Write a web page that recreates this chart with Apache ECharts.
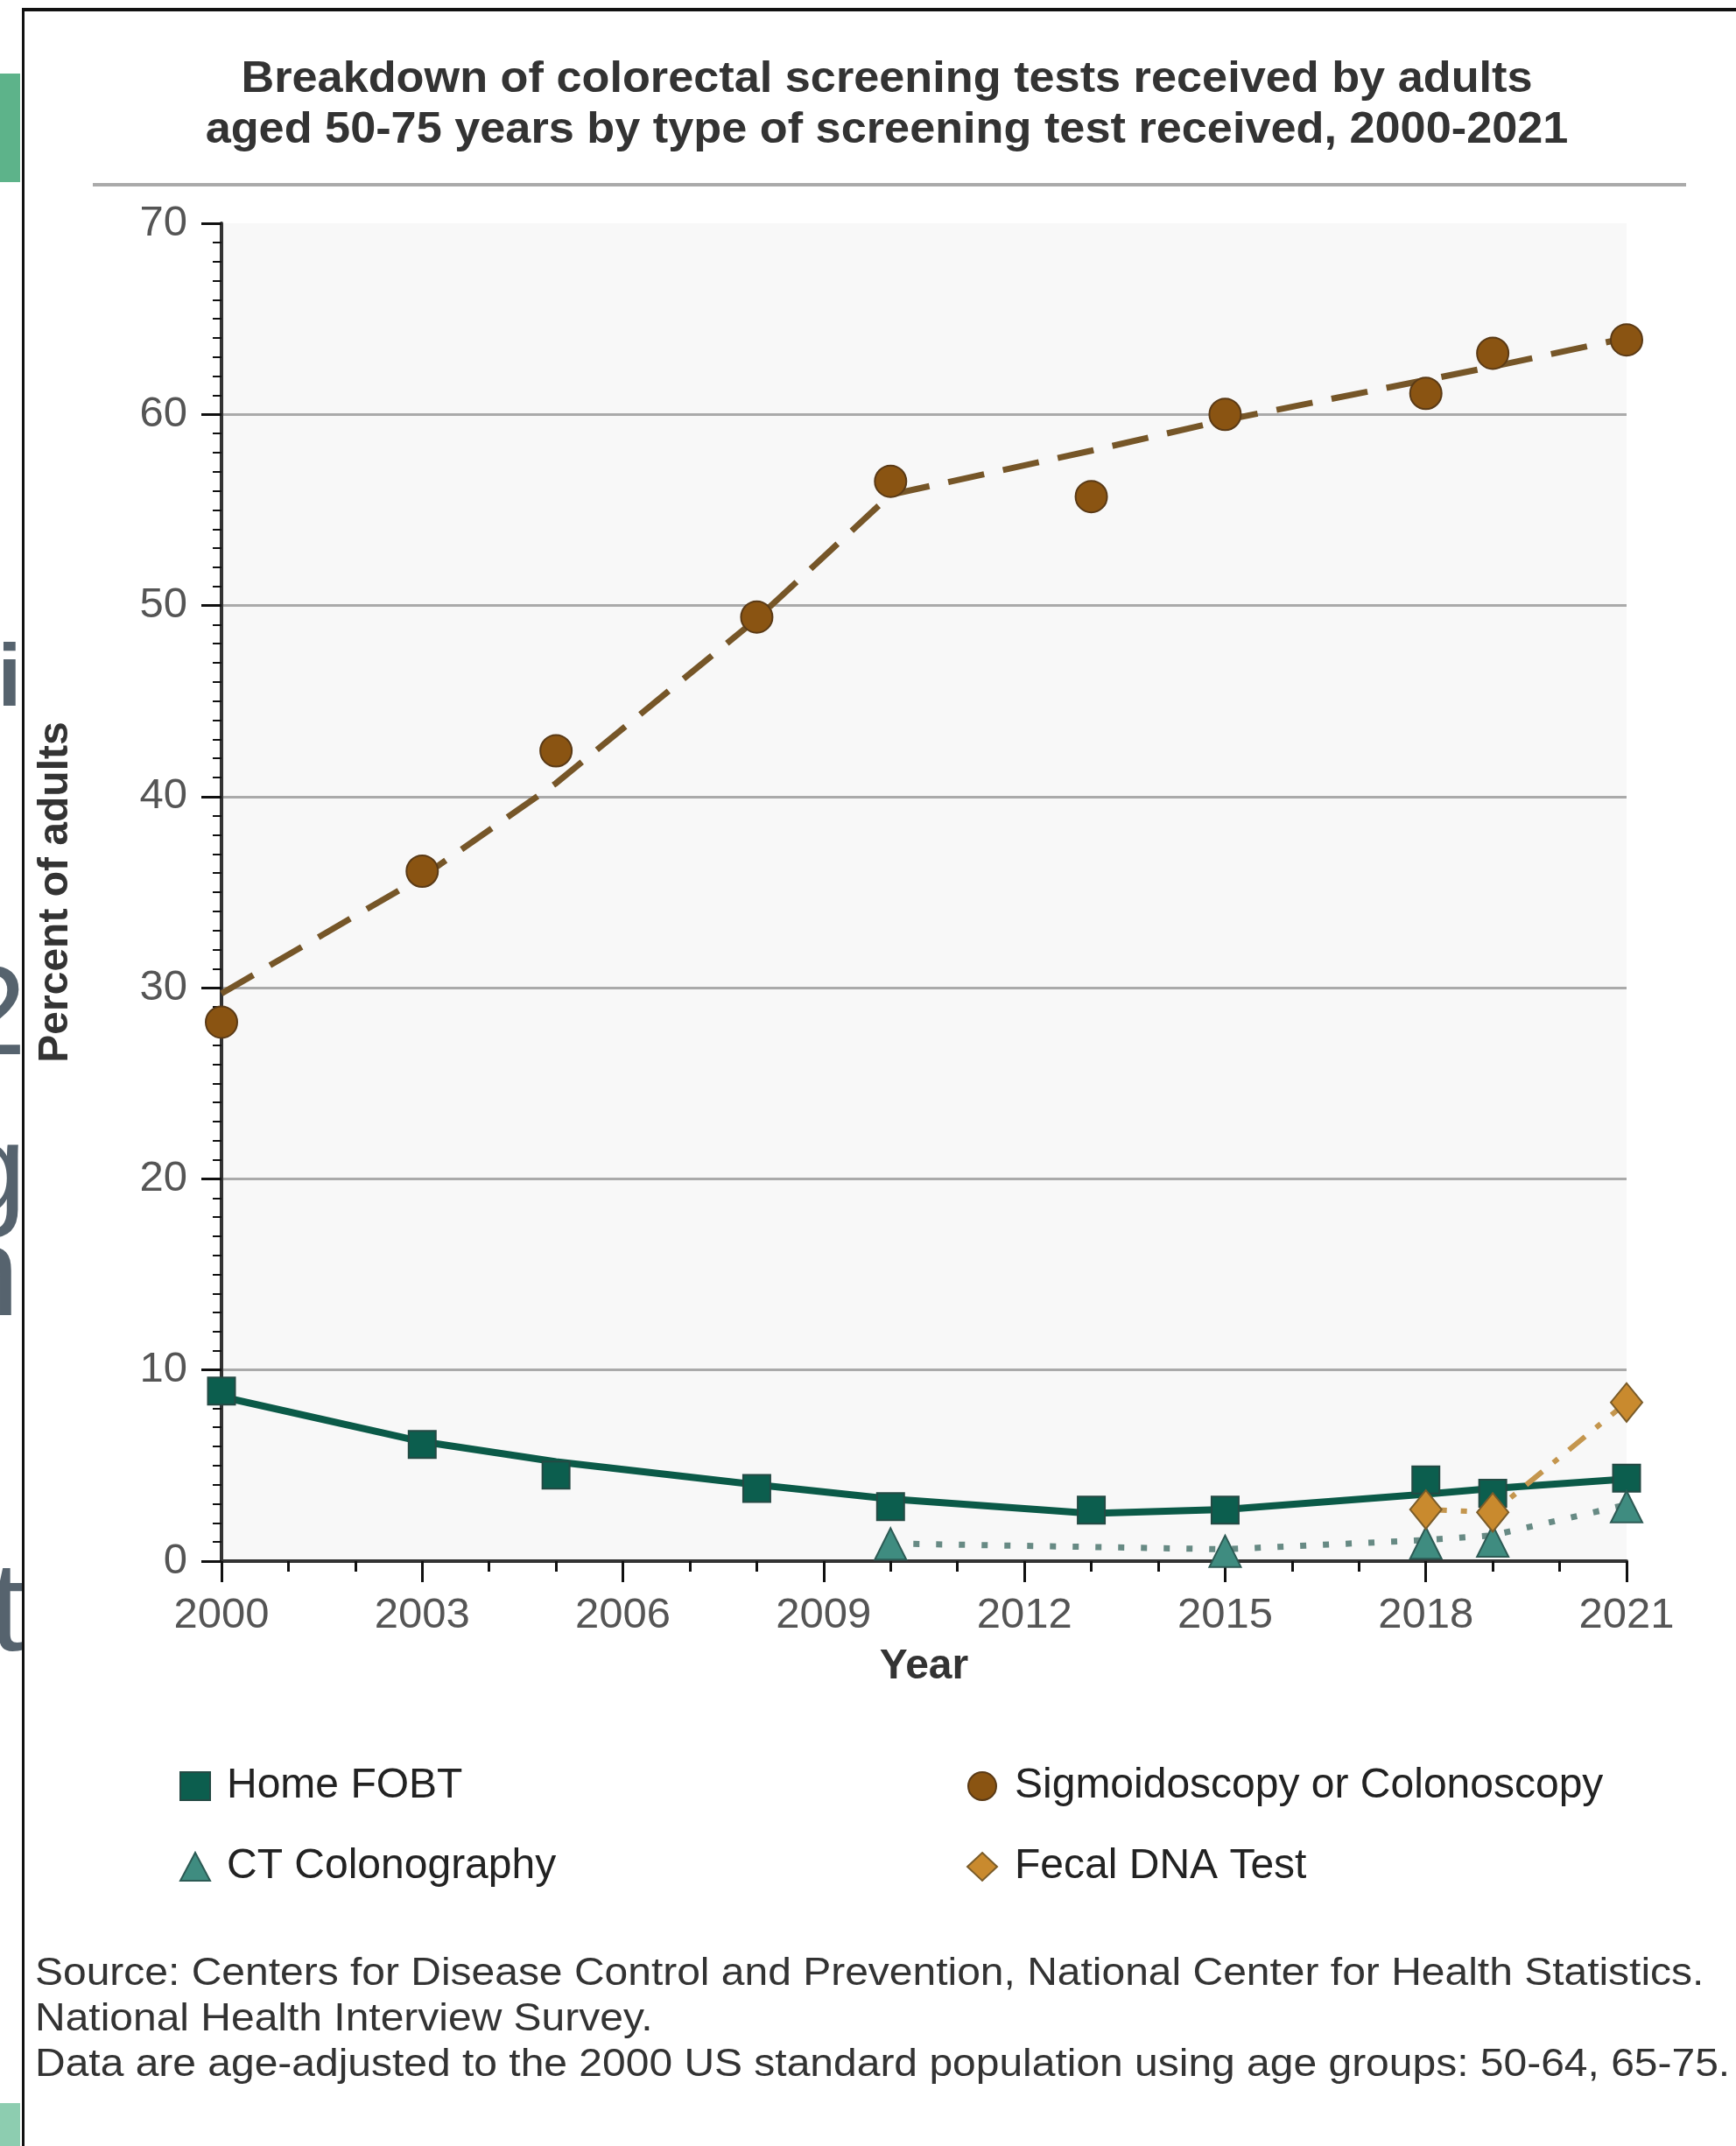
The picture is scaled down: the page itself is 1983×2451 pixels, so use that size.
<!DOCTYPE html>
<html>
<head>
<meta charset="utf-8">
<script src="https://cdn.jsdelivr.net/npm/echarts@6/dist/echarts.min.js"></script>
<style>
html,body{margin:0;padding:0;background:#ffffff;}
#chart{width:1983px;height:2451px;}
</style>
</head>
<body>
<div id="chart"></div>
<script>
// ---------------- data ----------------
const BASE_YEAR = 2000;
const xTickLabels = ['2000','2003','2006','2009','2012','2015','2018','2021'];
const yTickLabels = ['0','10','20','30','40','50','60','70'];

const surveyYears = [2000, 2003, 2005, 2008, 2010, 2013, 2015, 2018, 2019, 2021];

// Sigmoidoscopy or Colonoscopy
const sigValues = [28.2, 36.1, 42.4, 49.4, 56.5, 55.7, 60.0, 61.1, 63.2, 63.9];
const sigTrend  = [29.7, 35.8, 40.7, 49.3, 55.8, 58.1, 59.7, 61.8, 62.5, 64.0];

// Home FOBT
const fobtValues = [8.9, 6.1, 4.5, 3.8, 2.85, 2.67, 2.67, 4.25, 3.55, 4.34];
const fobtTrend  = [8.6, 6.25, 5.2, 4.0, 3.25, 2.5, 2.7, 3.5, 3.8, 4.3];

// CT Colonography
const ctYears  = [2010, 2015, 2018, 2019, 2021];
const ctValues = [0.9, 0.52, 0.95, 1.05, 2.85];
const ctTrend  = [0.92, 0.62, 1.1, 1.35, 2.95];

// Fecal DNA Test
const dnaYears  = [2018, 2019, 2021];
const dnaValues = [2.7, 2.55, 8.3];

const titleLines = [
  'Breakdown of colorectal screening tests received by adults',
  'aged 50-75 years by type of screening test received, 2000-2021'
];
const sourceLines = [
  'Source: Centers for Disease Control and Prevention, National Center for Health Statistics.',
  'National Health Interview Survey.',
  'Data are age-adjusted to the 2000 US standard population using age groups: 50-64, 65-75.'
];
const pageFragments = ['i', '2', 'g', 'n', 't'];

// ---------------- helpers ----------------
const pairs = (years, vals) => years.map((y, i) => [y - BASE_YEAR, vals[i]]);
const FONT = "'Liberation Sans', Arial, sans-serif";

const C_SIG = '#8a5412', C_SIG_B = '#5a3a16', C_SIG_LINE = '#765628';
const C_FOBT = '#0c5e4e', C_FOBT_B = '#244a44', C_FOBT_LINE = '#0b5a48';
const C_CT = '#3f8c80', C_CT_B = '#2c5a54', C_CT_LINE = '#678a84';
const C_DNA = '#c98a2e', C_DNA_B = '#7a5c2a', C_DNA_LINE = '#c4964e';

const chart = echarts.init(document.getElementById('chart'), null, {renderer: 'canvas'});

const fragStyle = (t, x, y, size, weight) => ({
  type: 'text', z: -10, x: x, y: y,
  style: {text: t, fill: '#56636e', font: (weight || 'normal') + ' ' + size + 'px ' + FONT,
          align: 'left', verticalAlign: 'middle'}
});

const textLine = (t, x, y, font, align, sx) => ({
  type: 'text', x: x, y: y, scaleX: sx, scaleY: 1, originX: 0, originY: 0,
  style: {text: t, fill: '#333333', font: font, align: align, verticalAlign: 'middle'}
});

const option = {
  backgroundColor: '#ffffff',
  animation: false,
  grid: {
    left: 253, right: 125, top: 255, bottom: 668,
    show: true, backgroundColor: '#f8f8f8', borderWidth: 0
  },
  xAxis: {
    type: 'value', min: 0, max: 21, interval: 3,
    axisLine: {show: true, onZero: false, lineStyle: {color: '#333333', width: 4}},
    axisTick: {show: true, length: 24, lineStyle: {color: '#111111', width: 3}},
    minorTick: {show: true, splitNumber: 3, length: 12, lineStyle: {color: '#111111', width: 3}},
    splitLine: {show: false},
    axisLabel: {
      formatter: v => xTickLabels[Math.round(v / 3)],
      fontSize: 49, color: '#555555', fontFamily: FONT, margin: 38
    },
    name: 'Year', nameLocation: 'middle', nameGap: 97,
    nameTextStyle: {fontSize: 48, fontWeight: 'bold', color: '#333333', fontFamily: FONT}
  },
  yAxis: {
    type: 'value', min: 0, max: 70, interval: 10,
    axisLine: {show: true, lineStyle: {color: '#333333', width: 4}},
    axisTick: {show: true, length: 23, lineStyle: {color: '#111111', width: 3}},
    minorTick: {show: true, splitNumber: 10, length: 10, lineStyle: {color: '#111111', width: 2}},
    splitLine: {show: true, showMinLine: false, showMaxLine: false, lineStyle: {color: '#aaaaaa', width: 3}},
    axisLabel: {
      formatter: v => yTickLabels[Math.round(v / 10)],
      fontSize: 49, color: '#555555', fontFamily: FONT, margin: 39
    },
    name: 'Percent of adults', nameLocation: 'middle', nameGap: 165, nameRotate: 90,
    nameTextStyle: {fontSize: 48, fontWeight: 'bold', color: '#333333', fontFamily: FONT}
  },
  legend: [
    {
      data: [{name: 'Home FOBT', icon: 'rect'}, {name: 'CT Colonography', icon: 'triangle'}],
      orient: 'vertical', left: 205, top: 2016, padding: 0,
      itemWidth: 34, itemHeight: 32, itemGap: 44, selectedMode: false,
      textStyle: {fontSize: 48, color: '#222222', fontFamily: FONT, lineHeight: 48, padding: [0, 0, 0, 14]}
    },
    {
      data: [{name: 'Sigmoidoscopy or Colonoscopy', icon: 'circle'}, {name: 'Fecal DNA Test', icon: 'diamond'}],
      orient: 'vertical', left: 1104, top: 2016, padding: 0,
      itemWidth: 34, itemHeight: 32, itemGap: 44, selectedMode: false,
      textStyle: {fontSize: 48, color: '#222222', fontFamily: FONT, lineHeight: 48, padding: [0, 0, 0, 15]}
    }
  ],
  series: [
    // point series first so legend picks their symbol colours
    {
      name: 'Home FOBT', type: 'scatter', z: 4,
      data: pairs(surveyYears, fobtValues), symbol: 'rect', symbolSize: 31,
      itemStyle: {color: C_FOBT, borderColor: C_FOBT_B, borderWidth: 2, opacity: 1}
    },
    {
      name: 'Sigmoidoscopy or Colonoscopy', type: 'scatter', z: 4,
      data: pairs(surveyYears, sigValues), symbol: 'circle', symbolSize: 36,
      itemStyle: {color: C_SIG, borderColor: C_SIG_B, borderWidth: 2, opacity: 1}
    },
    {
      name: 'CT Colonography', type: 'scatter', z: 4,
      data: pairs(ctYears, ctValues), symbol: 'triangle', symbolSize: 36,
      itemStyle: {color: C_CT, borderColor: C_CT_B, borderWidth: 2, opacity: 1}
    },
    {
      name: 'Fecal DNA Test', type: 'line', z: 5,
      data: pairs(dnaYears, dnaValues), symbol: 'diamond', symbolSize: [36, 44], showSymbol: true,
      lineStyle: {color: C_DNA_LINE, width: 6, type: [24, 16, 7, 16], cap: 'butt'},
      itemStyle: {color: C_DNA, borderColor: C_DNA_B, borderWidth: 2, opacity: 1}
    },
    // trend lines
    {
      name: 'Sigmoidoscopy or Colonoscopy', type: 'line', z: 2,
      data: pairs(surveyYears, sigTrend), showSymbol: false, symbol: 'none',
      lineStyle: {color: C_SIG_LINE, width: 7, type: [42, 22], cap: 'butt'}
    },
    {
      name: 'Home FOBT', type: 'line', z: 2,
      data: pairs(surveyYears, fobtTrend), showSymbol: false, symbol: 'none',
      lineStyle: {color: C_FOBT_LINE, width: 8}
    },
    {
      name: 'CT Colonography', type: 'line', z: 2,
      data: pairs(ctYears, ctTrend), showSymbol: false, symbol: 'none',
      lineStyle: {color: C_CT_LINE, width: 7, type: [7, 19], cap: 'butt'}
    }
  ],
  graphic: [
    // fragments of the page behind the chart box
    fragStyle(pageFragments[0], -3, 778, 100, 'bold'),
    fragStyle(pageFragments[1], -50, 1164, 144),
    fragStyle(pageFragments[2], -50, 1344, 144),
    fragStyle(pageFragments[3], -58, 1462, 144),
    fragStyle(pageFragments[4], -12, 1845, 144),
    {type: 'rect', z: -5, shape: {x: 25, y: 0, width: 1958, height: 2451}, style: {fill: '#ffffff'}},
    {type: 'rect', z: -4, shape: {x: 0, y: 0, width: 25, height: 9}, style: {fill: '#ffffff'}},
    {type: 'rect', z: -4, shape: {x: 0, y: 84, width: 23, height: 124}, style: {fill: '#5db38a'}},
    {type: 'rect', z: -4, shape: {x: 0, y: 2402, width: 23, height: 49}, style: {fill: '#8dcdb0'}},
    // box border
    {type: 'line', z: -3, shape: {x1: 25, y1: 11, x2: 1983, y2: 11}, style: {stroke: '#111111', lineWidth: 4}},
    {type: 'line', z: -3, shape: {x1: 26.5, y1: 9, x2: 26.5, y2: 2451}, style: {stroke: '#111111', lineWidth: 3}},
    // title
    textLine(titleLines[0], 1013, 91, 'bold 50px ' + FONT, 'center', 1.045),
    textLine(titleLines[1], 1013, 149, 'bold 50px ' + FONT, 'center', 1.045),
    {type: 'line', shape: {x1: 106, y1: 211, x2: 1926, y2: 211}, style: {stroke: '#aaaaaa', lineWidth: 4}},
    // source notes
    textLine(sourceLines[0], 40, 2255, '45px ' + FONT, 'left', 1.066),
    textLine(sourceLines[1], 40, 2307, '45px ' + FONT, 'left', 1.066),
    textLine(sourceLines[2], 40, 2359, '45px ' + FONT, 'left', 1.066)
  ]
};

chart.setOption(option);
</script>
</body>
</html>
